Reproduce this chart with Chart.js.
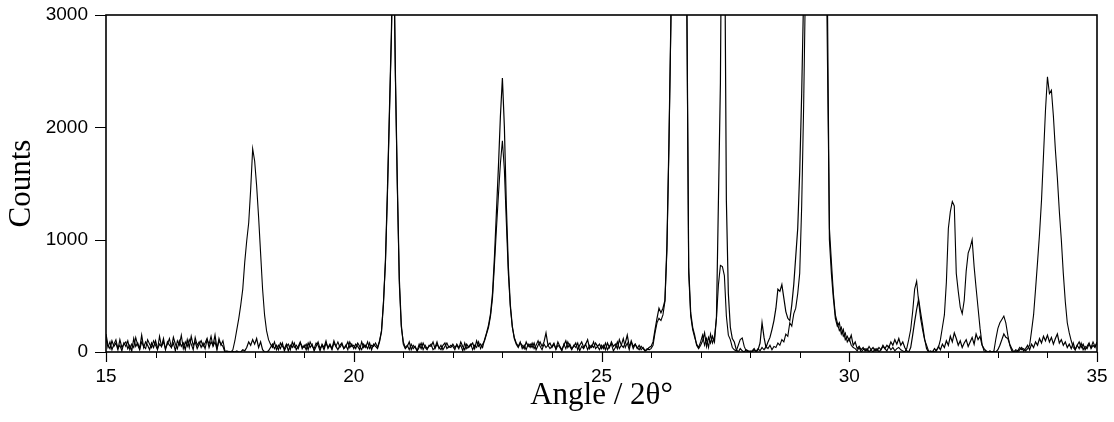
<!DOCTYPE html>
<html>
<head>
<meta charset="utf-8">
<script src="https://cdn.jsdelivr.net/npm/chart.js@4.4.1/dist/chart.umd.min.js"></script>
<style>
html,body{margin:0;padding:0;background:#fff;}
#wrap{width:1114px;height:422px;position:relative;}
</style>
</head>
<body>
<div id="wrap"><canvas id="c" width="1114" height="422"></canvas></div>
<script>
// 2θ sampling of the scans (degrees)
const angleStart = 15;
const angleStep = 0.04;

// Sample A counts, one row per degree (15.00 ... 35.00)
const sampleA = [
/*15*/ 120,40,90,20,70,110,30,60,10,80,50,100,20,70,40,130,60,20,90,50,30,110,70,40,100,
/*16*/ 60,20,140,50,90,30,70,120,40,80,10,100,60,150,30,90,50,110,70,20,130,60,90,40,80,
/*17*/ 30,110,70,140,50,90,20,120,60,100,10,0,5,0,20,98,200,300,420,560,800,990,1150,1450,1810,
/*18*/ 1700,1480,1200,880,560,330,190,110,70,40,90,20,60,30,80,10,50,70,20,90,40,60,30,80,50,
/*19*/ 40,70,20,90,50,30,80,60,10,70,40,100,30,60,20,80,50,90,40,70,30,60,20,90,50,
/*20*/ 60,30,80,50,20,70,40,90,30,60,50,80,40,100,190,450,800,1400,2100,2800,3900,2450,1450,600,220,
/*21*/ 90,40,60,20,70,30,50,10,40,80,20,60,30,50,70,20,40,90,30,60,20,50,80,40,60,
/*22*/ 50,20,70,40,60,10,80,30,50,70,20,60,40,90,30,70,100,160,220,320,480,780,1100,1400,1680,
/*23*/ 1880,1620,1150,700,400,220,130,80,50,90,30,60,20,70,40,80,30,60,100,50,20,70,40,60,30,
/*24*/ 50,80,20,60,40,10,70,30,90,50,20,60,40,80,10,50,30,70,20,60,40,90,30,50,20,
/*25*/ 60,30,80,20,50,70,10,40,90,30,60,120,40,80,20,100,50,70,30,60,20,40,10,30,20,
/*26*/ 30,60,170,260,300,280,330,450,900,1800,2900,4500,8000,14000,18000,16000,10000,6000,3200,700,320,200,130,70,40,
/*27*/ 90,150,60,120,40,160,80,130,300,600,770,760,680,320,150,110,40,20,10,60,110,125,50,10,0,
/*28*/ 10,0,20,5,30,10,40,20,50,30,60,20,50,40,80,60,110,90,160,140,260,230,340,390,520,
/*29*/ 700,1300,2200,3400,6500,11000,16000,20000,22000,20000,15000,10000,6500,4200,2600,1100,800,520,330,260,190,220,140,170,90,
/*30*/ 120,60,40,30,10,40,0,20,30,10,50,20,0,30,10,40,20,60,30,10,50,20,40,10,30,
/*31*/ 40,20,10,0,30,110,200,360,560,630,450,300,200,110,60,10,0,5,0,20,40,110,220,330,620,
/*32*/ 1100,1250,1340,1300,700,540,400,340,460,720,880,930,1000,760,570,390,210,70,10,0,0,5,0,10,120,
/*33*/ 210,260,290,320,260,150,60,10,0,20,10,40,20,30,10,30,60,190,330,560,800,1050,1350,1750,2150,
/*34*/ 2450,2300,2330,2100,1800,1550,1250,1000,700,450,260,170,100,40,20,60,30,80,20,50,30,70,40,90,50,
/*35*/ 80
];

// Sample B counts, one row per degree (15.00 ... 35.00)
const sampleB = [
/*15*/ 160,60,30,100,50,80,20,110,40,70,90,30,60,10,120,50,80,30,150,40,90,60,20,80,40,
/*16*/ 100,30,70,50,120,20,90,60,40,130,70,30,100,50,80,20,110,40,140,60,90,30,70,100,50,
/*17*/ 80,120,40,90,60,150,30,100,70,50,0,10,0,0,5,0,10,0,0,20,10,40,90,60,110,
/*18*/ 70,120,40,90,20,0,0,10,40,70,30,60,20,80,50,30,70,10,60,40,80,20,50,90,30,
/*19*/ 60,20,80,40,70,10,50,90,30,60,20,80,40,70,30,100,50,20,60,80,30,50,90,40,70,
/*20*/ 30,70,50,20,90,40,60,30,80,20,70,50,30,90,180,430,820,1450,2150,2850,3800,2500,1500,650,240,
/*21*/ 70,30,50,90,20,60,40,10,70,30,80,40,20,60,50,90,30,70,40,20,60,80,30,50,40,
/*22*/ 70,40,60,30,90,50,20,70,40,60,80,30,100,50,70,40,110,170,240,340,520,850,1250,1650,2100,
/*23*/ 2440,2000,1300,760,420,230,120,70,40,80,60,30,90,50,70,40,80,20,60,90,50,90,170,60,80,
/*24*/ 40,70,30,90,50,20,60,100,40,70,30,50,80,20,60,90,40,70,110,30,60,40,80,50,70,
/*25*/ 30,60,20,80,40,90,50,70,30,110,60,40,80,150,50,90,30,70,40,20,50,30,10,20,40,
/*26*/ 50,90,200,300,390,350,390,460,950,1850,2950,4600,8200,14000,18000,16500,10500,6200,3300,750,350,220,150,60,30,
/*27*/ 60,100,170,50,130,80,140,90,310,1350,2400,5000,4200,1350,520,220,120,90,20,0,30,10,0,20,10,
/*28*/ 0,10,30,0,20,80,260,130,40,90,130,200,280,390,560,540,600,480,360,300,280,420,600,850,1100,
/*29*/ 1600,2300,3200,5500,9000,14000,18000,21000,21000,19000,14000,9500,6000,4500,3100,1000,700,480,300,230,260,160,200,110,140,
/*30*/ 100,150,60,90,30,50,20,40,10,30,0,20,40,10,30,0,20,50,30,60,40,90,60,110,70,
/*31*/ 120,60,90,40,10,0,40,150,270,380,470,350,240,120,30,0,10,0,30,10,50,20,70,40,100,
/*32*/ 60,140,90,170,120,60,100,40,80,110,50,90,130,70,160,110,140,60,30,10,0,10,0,5,0,
/*33*/ 20,60,110,160,130,120,70,30,0,10,0,20,40,10,30,60,20,70,40,90,60,120,80,140,100,
/*34*/ 150,90,130,70,120,160,80,110,60,90,40,70,30,80,20,60,90,40,70,20,50,80,30,60,40,
/*35*/ 90
];

const xTickValues = [15, 20, 25, 30, 35];
const xMinorTickValues = [16,17,18,19,21,22,23,24,26,27,28,29,31,32,33,34];
const yTickValues = [0, 1000, 2000, 3000];
const xTitle = 'Angle / 2θ°';
const yTitle = 'Counts';

function toPoints(arr) {
  return arr.map((v, i) => ({x: +(angleStart + i * angleStep).toFixed(2), y: v}));
}

const framePlugin = {
  id: 'frame',
  afterDraw(chart) {
    const {ctx, chartArea: a, scales} = chart;
    ctx.save();
    ctx.strokeStyle = '#000';
    ctx.lineWidth = 1;
    ctx.beginPath();
    xMinorTickValues.forEach(v => {
      const px = Math.round(scales.x.getPixelForValue(v)) + 0.5;
      ctx.moveTo(px, a.bottom);
      ctx.lineTo(px, a.bottom + 6);
    });
    ctx.stroke();
    ctx.lineWidth = 1.2;
    ctx.beginPath();
    xTickValues.forEach(v => {
      const px = Math.round(scales.x.getPixelForValue(v)) + 0.5;
      ctx.moveTo(px, a.bottom);
      ctx.lineTo(px, a.bottom + 10);
    });
    yTickValues.forEach(v => {
      const py = Math.round(scales.y.getPixelForValue(v)) + 0.5;
      ctx.moveTo(a.left, py);
      ctx.lineTo(a.left - 11, py);
    });
    ctx.stroke();
    ctx.lineWidth = 1.6;
    ctx.strokeRect(a.left, a.top, a.right - a.left, a.bottom - a.top);
    ctx.restore();
  }
};

new Chart(document.getElementById('c'), {
  type: 'line',
  data: {
    datasets: [
      {label: 'A', data: toPoints(sampleA), borderColor: '#000', borderWidth: 1.1, pointRadius: 0, tension: 0, fill: false},
      {label: 'B', data: toPoints(sampleB), borderColor: '#000', borderWidth: 1.2, pointRadius: 0, tension: 0, fill: false}
    ]
  },
  options: {
    responsive: false,
    animation: false,
    events: [],
    layout: {autoPadding: false, padding: {top: 15, right: 17, left: 0, bottom: 0}},
    plugins: {legend: {display: false}, tooltip: {enabled: false}},
    scales: {
      x: {
        type: 'linear',
        min: 15, max: 35,
        afterBuildTicks: s => { s.ticks = xTickValues.map(v => ({value: v})); },
        afterFit: s => { s.height = 70; },
        grid: {display: true, drawOnChartArea: false, drawTicks: true, tickLength: 13, tickColor: 'rgba(0,0,0,0)'},
        border: {display: false},
        ticks: {
          padding: 0,
          color: '#000',
          callback: v => String(v),
          font: {family: '"Liberation Sans", Arial, sans-serif', size: 19},
          maxRotation: 0
        },
        title: {
          display: true, text: xTitle, color: '#000',
          font: {family: '"Liberation Serif", "Times New Roman", serif', size: 31},
          padding: {top: 0, bottom: 8}
        }
      },
      y: {
        type: 'linear',
        min: 0, max: 3000,
        afterBuildTicks: s => { s.ticks = yTickValues.map(v => ({value: v})); },
        afterFit: s => { s.width = 106; },
        grid: {display: true, drawOnChartArea: false, drawTicks: true, tickLength: 18, tickColor: 'rgba(0,0,0,0)'},
        border: {display: false},
        ticks: {
          padding: 0,
          color: '#000',
          callback: v => String(v),
          font: {family: '"Liberation Sans", Arial, sans-serif', size: 19}
        },
        title: {
          display: true, text: yTitle, color: '#000',
          font: {family: '"Liberation Serif", "Times New Roman", serif', size: 31},
          padding: {top: 3, bottom: 0}
        }
      }
    }
  },
  plugins: [framePlugin]
});
</script>
</body>
</html>
